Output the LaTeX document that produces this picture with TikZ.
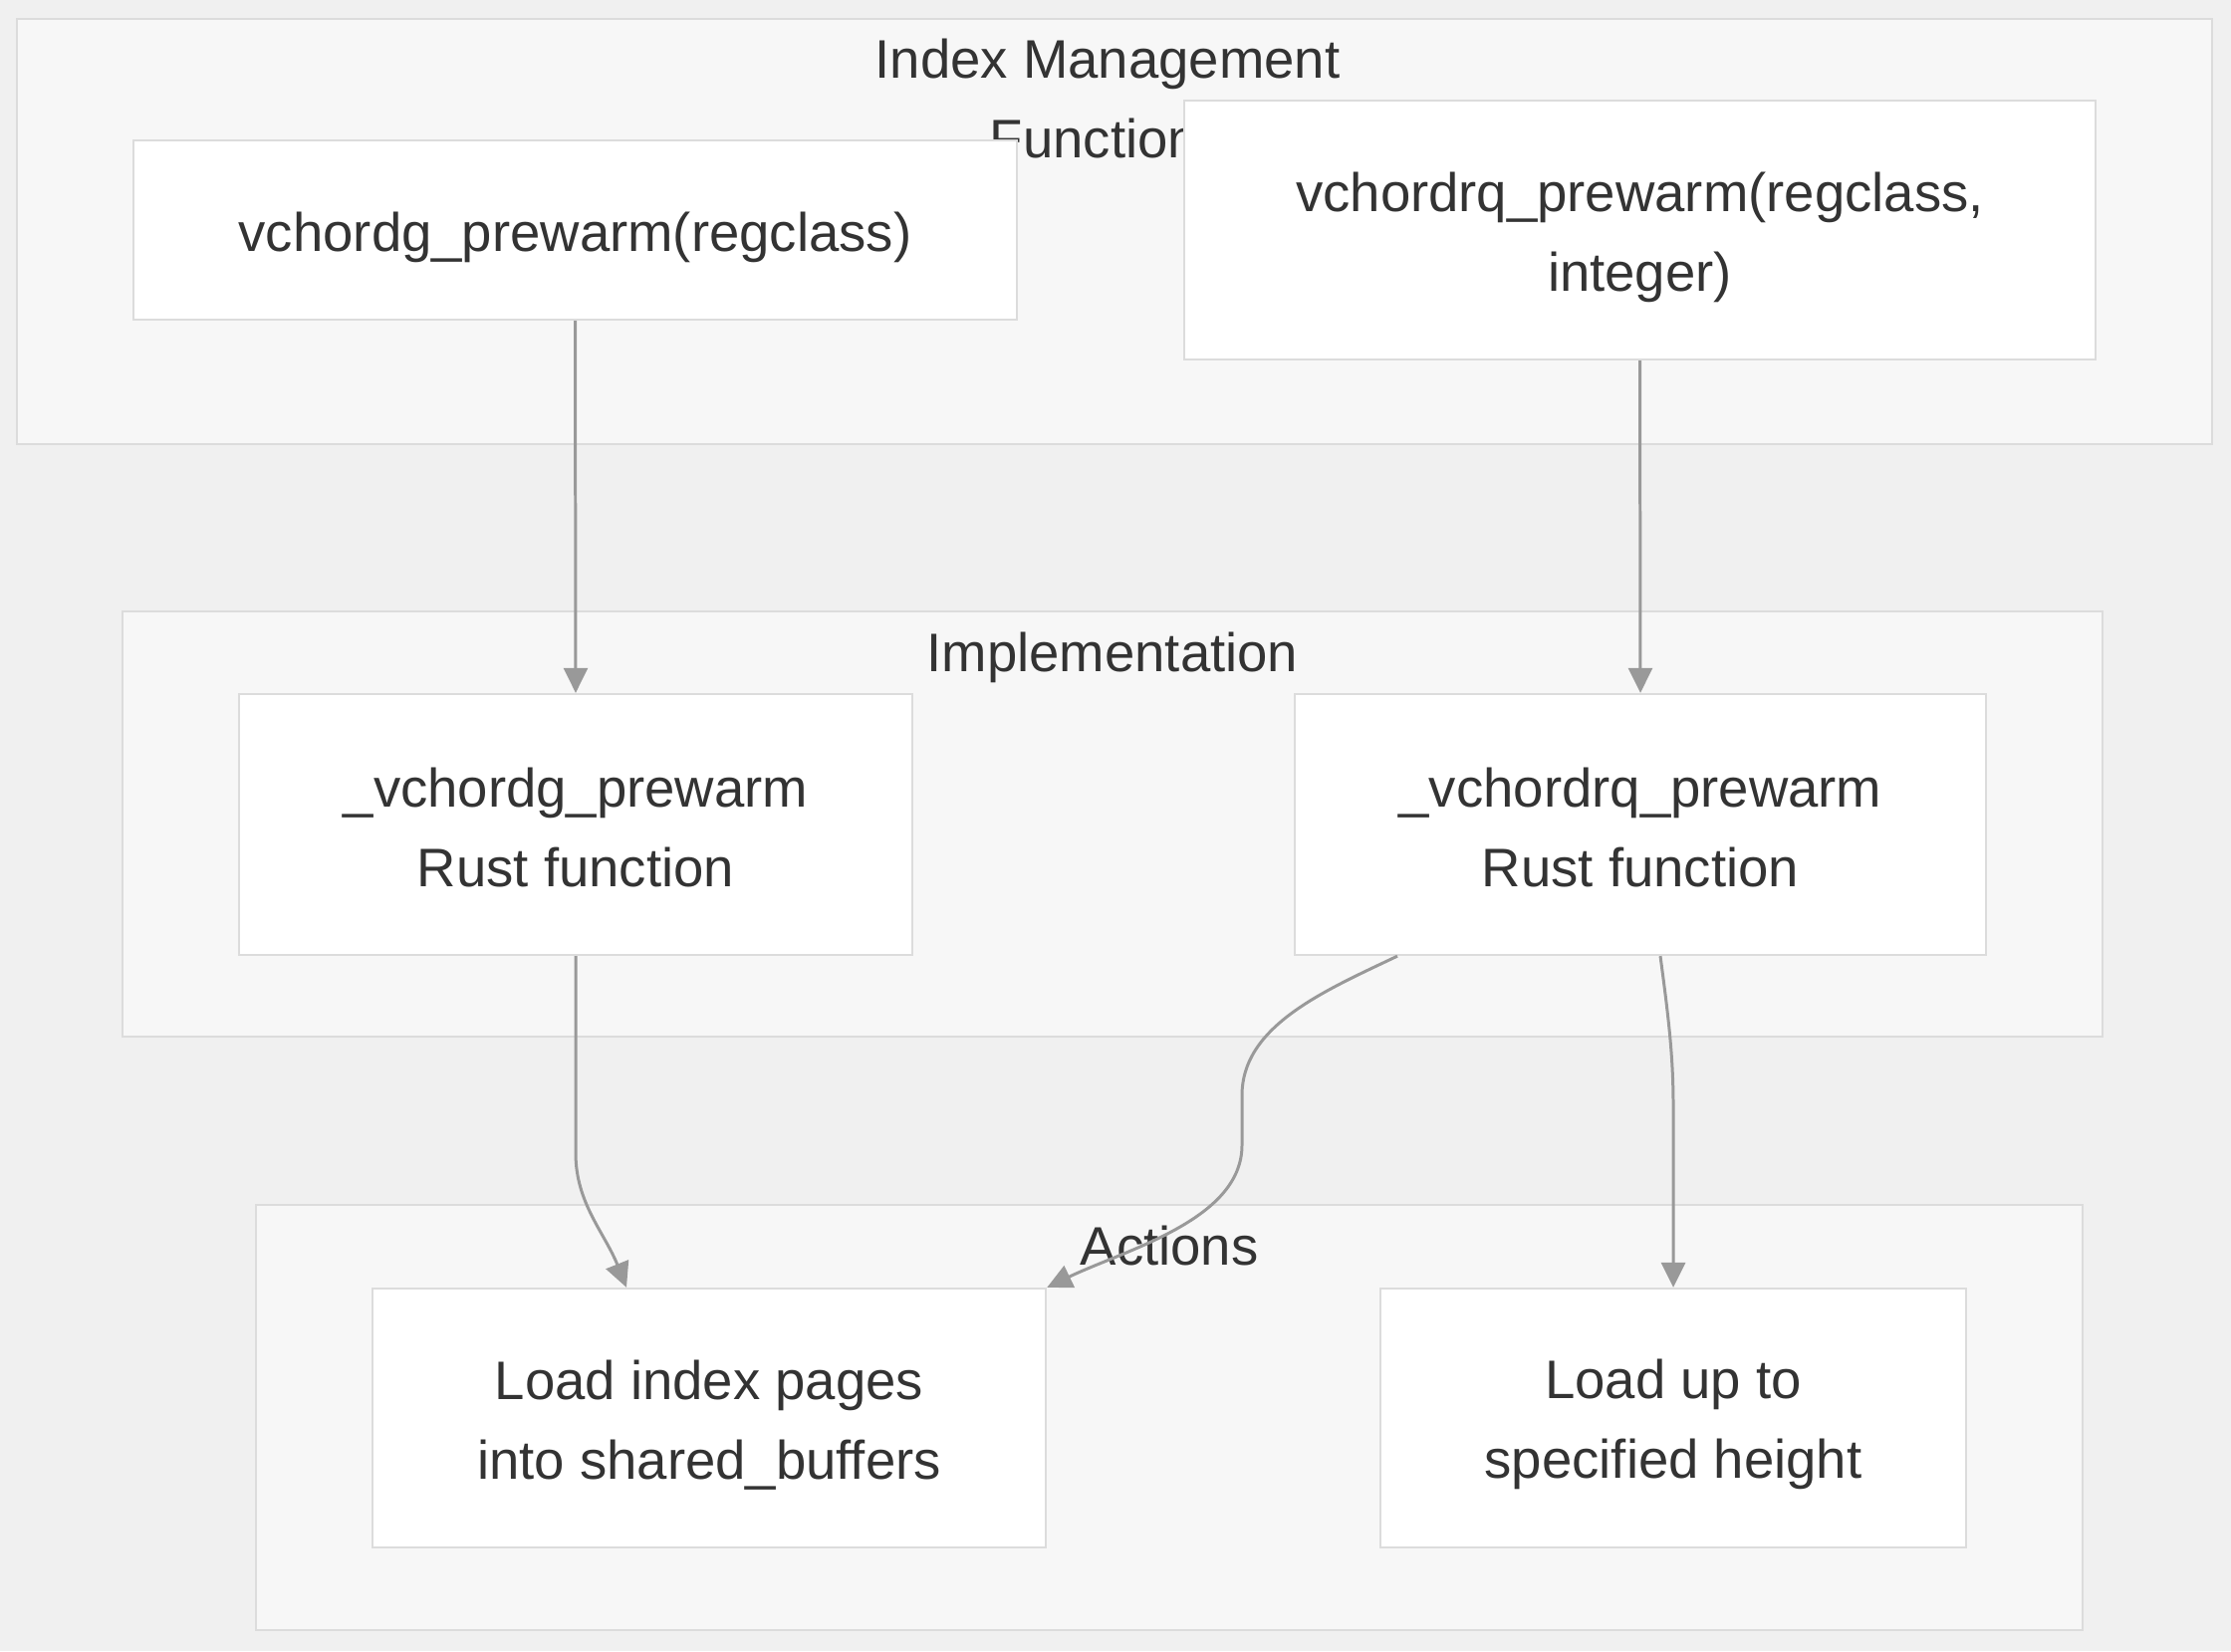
\documentclass[tikz,border=0pt]{standalone}
\usepackage{fontspec}
\setmainfont{Liberation Sans}
\usetikzlibrary{arrows.meta,calc}
\definecolor{bgcol}{HTML}{F0F0F0}
\definecolor{clustercol}{HTML}{F7F7F7}
\definecolor{edgecol}{HTML}{DCDCDC}
\definecolor{linkcol}{HTML}{999999}
\definecolor{textcol}{HTML}{333333}
\newcommand{\lowr}[1]{\rule{0pt}{#1}}
\tikzset{
  cluster/.style={fill=clustercol,draw=edgecol,line width=0.6pt},
  clustertitle/.style={text=textcol,align=center,inner sep=0pt},
  box/.style={fill=white,draw=edgecol,line width=0.6pt,text=textcol,align=center,inner sep=0pt},
  link/.style={draw=linkcol,line width=0.85pt,-{Triangle[length=0.25cm,width=0.24cm]}}
}
\begin{document}
\begin{tikzpicture}[x=0.01cm,y=-0.01cm,font=\fontsize{15.5pt}{22.8pt}\selectfont]
  \fill[bgcol] (0,0) rectangle (2240,1658);
  \useasboundingbox (0,0) rectangle (2240,1658);

  % clusters
  \draw[cluster] (17,19) rectangle (2221,446);
  \node[clustertitle] (titleIdx) at (1112,99) {Index Management\\Functions};
  \draw[cluster] (123,614) rectangle (2111,1041);
  \node[clustertitle] (titleImpl) at (1117,660) {Implementation};
  \draw[cluster] (257,1210) rectangle (2091,1637);
  \node[clustertitle] (titleAct) at (1174,1251) {Actions};

  % nodes
  \node[box,minimum width=8.87cm,minimum height=1.80cm] (gsql) at (577.5,231) {\lowr{0.54cm}vchordg\_prewarm(regclass)};
  \node[box,minimum width=9.15cm,minimum height=2.60cm] (rqsql) at (1646.5,231) {\lowr{0.55cm}vchordrq\_prewarm(regclass,\\integer)};
  \node[box,minimum width=6.76cm,minimum height=2.62cm] (grust) at (578,828) {\lowr{0.46cm}\_vchordg\_prewarm\\Rust function};
  \node[box,minimum width=6.94cm,minimum height=2.62cm] (rqrust) at (1647,828) {\lowr{0.46cm}\_vchordrq\_prewarm\\Rust function};
  \node[box,minimum width=6.76cm,minimum height=2.60cm] (loadall) at (712,1424) {\lowr{0.53cm}Load index pages\\into shared\_buffers};
  \node[box,minimum width=5.88cm,minimum height=2.60cm] (loadh) at (1680,1424) {\lowr{0.53cm}Load up to\\specified height};

  % edges
  \draw[link] (gsql.south) -- (grust.north);
  \draw[link] (rqsql.south) -- (rqrust.north);
  \draw[link] (grust.south) -- ++(0,198) .. controls +(0,50) and +(-22,-55) .. ($(loadall.north)+(-83,0)$);
  \draw[link] ($(rqrust.south)+(-244,0)$) .. controls (1330,995) and (1247,1030) .. (1247,1100)
     -- (1247,1150) .. controls (1247,1225) and (1130,1255) .. (loadall.north east);
  \draw[link] ($(rqrust.south)+(20,0)$) .. controls (1675,1020) and (1680,1060) .. (1680,1110) -- (loadh.north);
\end{tikzpicture}
\end{document}
